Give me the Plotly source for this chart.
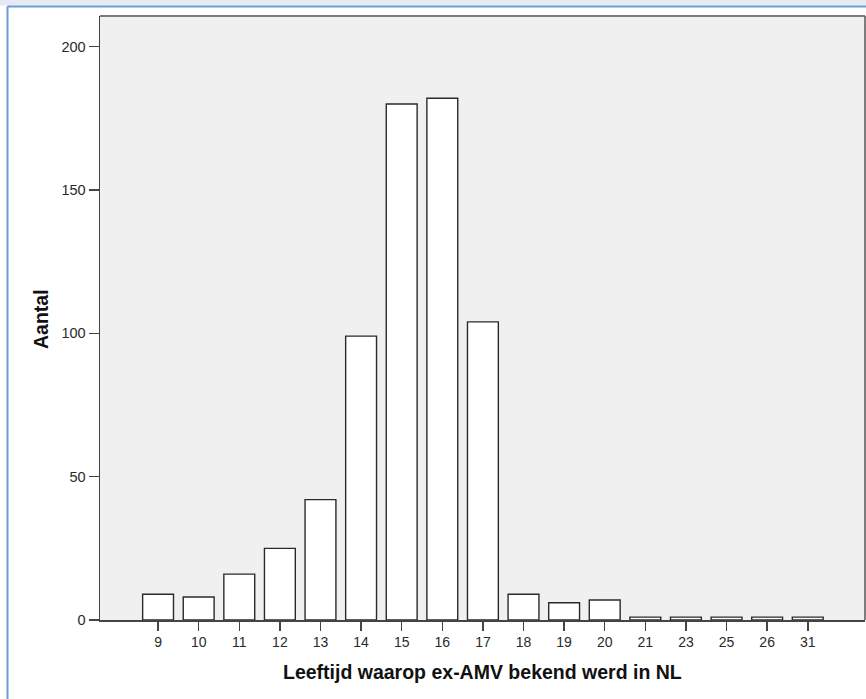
import plotly.graph_objects as go

ages = ["9", "10", "11", "12", "13", "14", "15", "16", "17", "18", "19", "20", "21", "23", "25", "26", "31"]
counts = [9, 8, 16, 25, 42, 99, 180, 182, 104, 9, 6, 7, 1, 1, 1, 1, 1]
y_ticks = [0, 50, 100, 150, 200]

W, H = 866, 699
L, R, T, B = 100, 1, 16, 79
pw, ph = W - L - R, H - T - B

def px(x):
    return (x - L) / pw

def py(y):
    return (H - B - y) / ph

pos = list(range(len(ages)))

fig = go.Figure(go.Bar(
    x=pos, y=counts, width=0.76,
    marker=dict(color="white", line=dict(color="#2a2a2a", width=1.4)),
    hoverinfo="skip",
))

fig.update_layout(
    width=W, height=H,
    margin=dict(l=L, r=R, t=T, b=B),
    paper_bgcolor="white", plot_bgcolor="#f0f0f0",
    showlegend=False,
    font=dict(family="Liberation Sans, Arial, sans-serif", color="#222"),
    xaxis=dict(
        range=[-1.43, 17.41], tickvals=pos, ticktext=ages,
        ticks="outside", ticklen=9, tickwidth=1.5, tickcolor="#444",
        showline=True, linecolor="#444", linewidth=1.5,
        showgrid=False, zeroline=False,
        tickfont=dict(size=14, color="#2a2a2a"),
    ),
    yaxis=dict(
        range=[0, ph / 2.867], tickvals=y_ticks,
        ticks="outside", ticklen=10, tickwidth=1.5, tickcolor="#444",
        showline=True, linecolor="#444", linewidth=1.5,
        showgrid=False, zeroline=False,
        tickfont=dict(size=14.5, color="#2a2a2a"),
    ),
    annotations=[
        dict(text="<b>Leeftijd waarop ex-AMV bekend werd in NL</b>", xref="paper", yref="paper",
             x=px(482), y=py(672), showarrow=False, font=dict(size=19.5, color="#111"),
             xanchor="center", yanchor="middle"),
        dict(text="<b>Aantal</b>", xref="paper", yref="paper", textangle=-90,
             x=px(41), y=py(319), showarrow=False, font=dict(size=19.5, color="#111"),
             xanchor="center", yanchor="middle"),
    ],
    shapes=[
        # light band above border
        dict(type="rect", xref="paper", yref="paper", x0=px(-5), x1=px(900), y0=py(5.5), y1=py(-5),
             fillcolor="#e6ebf3", line=dict(width=0), layer="below"),
        # blue outer frame (left + top)
        dict(type="line", xref="paper", yref="paper", x0=px(7.5), x1=px(7.5), y0=py(6.5), y1=py(720),
             line=dict(color="#6a9bd8", width=2)),
        dict(type="line", xref="paper", yref="paper", x0=px(7.5), x1=px(900), y0=py(6.5), y1=py(6.5),
             line=dict(color="#6a9bd8", width=2)),
        # plot frame top and right
        dict(type="line", xref="paper", yref="paper", x0=0, x1=1, y0=1, y1=1,
             line=dict(color="#7a7a7a", width=2)),
        dict(type="line", xref="paper", yref="paper", x0=1, x1=1, y0=0, y1=1,
             line=dict(color="#555", width=1.5)),
    ],
)

fig.write_html(
    "out.html",
    config={"displayModeBar": False, "staticPlot": True},
    post_script="document.body.style.margin='0';document.body.style.overflow='hidden';",
)
